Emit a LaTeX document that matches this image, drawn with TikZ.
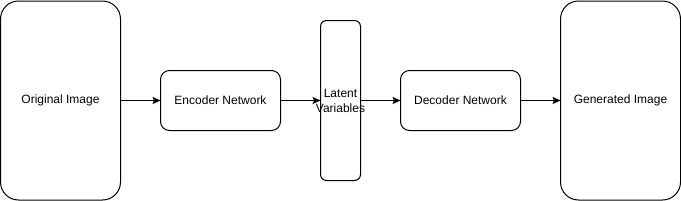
\documentclass[tikz,border=0pt]{standalone}
\usepackage{fontspec}
\setmainfont{Liberation Sans}
\usetikzlibrary{positioning, arrows.meta}
\tikzset{
  box/.style={draw, line width=1pt, rounded corners=9pt, minimum height=60pt, minimum width=120pt, inner sep=0pt, outer sep=0pt, align=center, font=\fontsize{12}{15}\selectfont},
  imgbox/.style={box, rounded corners=18pt, minimum height=199pt},
  latbox/.style={box, rounded corners=6pt, minimum width=40pt, minimum height=160pt},
  arr/.style={-{Stealth[length=8pt, width=7pt, inset=1.5pt]}, line width=1pt}
}
\begin{document}
\begin{tikzpicture}[x=1pt, y=1pt, node distance=0pt and 40pt]
\useasboundingbox (0,0) rectangle (681,-201);
\node[imgbox] (orig) at (60.5,-100.5) {Original Image};
\node[box, right=of orig] (enc) {Encoder Network};
\node[latbox, right=of enc] (lat) {Latent\\\makebox[0pt]{Variables}};
\node[box, right=of lat] (dec) {Decoder Network};
\node[imgbox, right=of dec] (gen) {Generated Image};
\draw[arr] (orig) -- (enc);
\draw[arr] (enc) -- (lat);
\draw[arr] (lat) -- (dec);
\draw[arr] (dec) -- (gen);
\end{tikzpicture}
\end{document}
